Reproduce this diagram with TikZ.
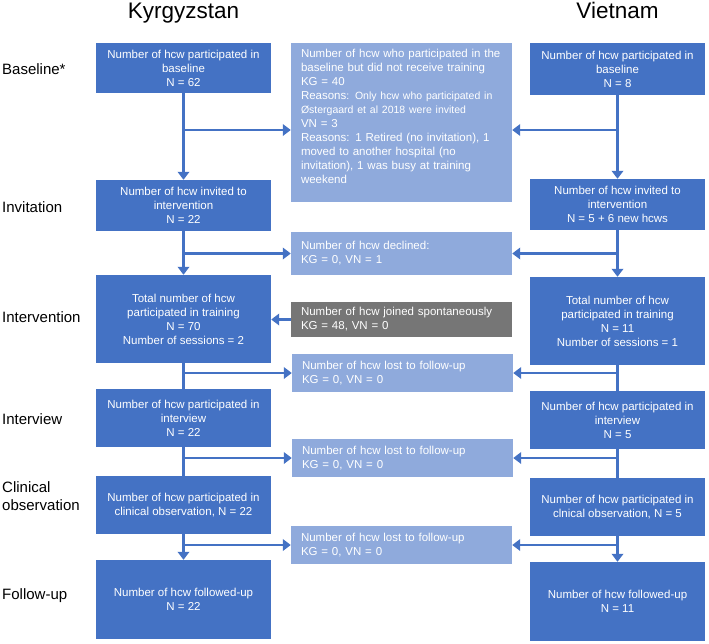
\documentclass[tikz,border=0pt]{standalone}
\usepackage{fontspec}
\setmainfont{Liberation Sans}
\usetikzlibrary{arrows.meta}

\definecolor{stageblue}{RGB}{68,114,196}
\definecolor{exitblue}{RGB}{143,170,220}
\definecolor{joingray}{RGB}{118,118,118}

\begin{document}
\begin{tikzpicture}[x=1pt,y=-1pt,>={Triangle[width=11.5pt,length=8pt]},
    flow/.style={line width=2.3pt,stageblue},
    stagebox/.style={fill=stageblue,text=white,align=center,inner sep=0pt,
      minimum width=175pt,font=\fontsize{11.5}{14}\selectfont},
    exitbox/.style={fill=exitblue,text=white,align=left,text width=201pt,
      inner xsep=10pt,inner ysep=0pt,minimum height=38pt,
      font=\fontsize{11.5}{14}\selectfont},
    rowlabel/.style={inner sep=0pt,align=left,font=\fontsize{15}{18}\selectfont},
    country/.style={anchor=base,inner sep=0pt,font=\fontsize{22.5}{27}\selectfont}]
    \useasboundingbox (0,0) rectangle (709,643);

    \node[country] (kg) at (183.5,18) {Kyrgyzstan};
    \node[country] (vn) at (617.5,18) {Vietnam};

    \node[rowlabel,anchor=base west] (lbase) at (2,74) {Baseline*};
    \node[rowlabel,anchor=base west] (linvite) at (2,212) {Invitation};
    \node[rowlabel,anchor=base west] (ltrain) at (2,322) {Intervention};
    \node[rowlabel,anchor=base west] (linterview) at (2,424) {Interview};
    \node[rowlabel,anchor=west] (lclinic) at (2,496) {Clinical\\observation};
    \node[rowlabel,anchor=base west] (lfollow) at (2,599) {Follow-up};

    \node[stagebox,minimum height=50pt] (kbase) at (183.5,68)
      {Number of hcw participated in\\baseline\\N = 62};
    \node[stagebox,minimum height=51pt] (kinvite) at (183.5,205.5)
      {Number of hcw invited to\\intervention\\N = 22};
    \node[stagebox,minimum height=88pt] (ktrain) at (183.5,319)
      {Total number of hcw\\participated in training\\N = 70\\Number of sessions = 2};
    \node[stagebox,minimum height=58pt] (kinterview) at (183.5,418)
      {Number of hcw participated in\\interview\\N = 22};
    \node[stagebox,minimum height=58pt] (kclinic) at (183.5,505)
      {Number of hcw participated in\\clinical observation, N = 22};
    \node[stagebox,minimum height=79pt] (kfollow) at (183.5,599.5)
      {Number of hcw followed-up\\N = 22};

    \node[stagebox,minimum height=52pt] (vbase) at (617.5,69)
      {Number of hcw participated in\\baseline\\N = 8};
    \node[stagebox,minimum height=51pt] (vinvite) at (617.5,204.5)
      {Number of hcw invited to\\intervention\\N = 5 + 6 new hcws};
    \node[stagebox,minimum height=88pt] (vtrain) at (617.5,321)
      {Total number of hcw\\participated in training\\N = 11\\Number of sessions = 1};
    \node[stagebox,minimum height=58pt] (vinterview) at (617.5,420)
      {Number of hcw participated in\\interview\\N = 5};
    \node[stagebox,minimum height=58pt] (vclinic) at (617.5,507)
      {Number of hcw participated in\\clnical observation, N = 5};
    \node[stagebox,minimum height=79pt] (vfollow) at (617.5,601.5)
      {Number of hcw followed-up\\N = 11};

    \node[exitbox,minimum height=159pt] (notrained) at (401.5,122.5)
      {Number of hcw who participated in the\\baseline but did not receive training\\KG = 40\\
       Reasons{\fontsize{10.5}{12.5}\selectfont: Only hcw who participated in}\\
       {\fontsize{10.5}{12.5}\selectfont Østergaard et al 2018 were invited}\\VN = 3\\
       Reasons: 1 Retired (no invitation), 1\\moved to another hospital (no\\
       invitation), 1 was busy at training\\weekend\\[-2pt]\mbox{}};
    \node[exitbox,minimum height=43pt] (declined) at (401.5,253.5)
      {Number of hcw declined:\\KG = 0, VN = 1};
    \node[exitbox,fill=joingray,minimum height=35pt] (joined) at (401.5,319.5)
      {Number of hcw joined spontaneously\\KG = 48, VN = 0};
    \node[exitbox] (lost1) at (402.5,373)
      {Number of hcw lost to follow-up\\KG = 0, VN = 0};
    \node[exitbox] (lost2) at (402.5,458)
      {Number of hcw lost to follow-up\\KG = 0, VN = 0};
    \node[exitbox] (lost3) at (401.5,545)
      {Number of hcw lost to follow-up\\KG = 0, VN = 0};

    \draw[flow,->] (kbase)--(kinvite);
    \draw[flow,->] (kinvite)--(ktrain);
    \draw[flow] (ktrain)--(kinterview);
    \draw[flow] (kinterview)--(kclinic);
    \draw[flow,->] (kclinic)--(kfollow);
    \draw[flow,->] (vbase)--(vinvite);
    \draw[flow,->] (vinvite)--(vtrain);
    \draw[flow] (vtrain)--(vinterview);
    \draw[flow] (vinterview)--(vclinic);
    \draw[flow,->] (vclinic)--(vfollow);

    \draw[flow,->] (kbase.south |- 0,130)--(notrained.west |- 0,130);
    \draw[flow,->] (vbase.south |- 0,130)--(notrained.east |- 0,130);
    \draw[flow,->] (kinvite.south |- declined.west)--(declined.west);
    \draw[flow,->] (vinvite.south |- declined.east)--(declined.east);
    \draw[flow,->] (joined.west)--(ktrain.east |- joined.west);
    \draw[flow,->] (ktrain.south |- lost1.west)--(lost1.west);
    \draw[flow,->] (vtrain.south |- lost1.east)--(lost1.east);
    \draw[flow,->] (kinterview.south |- lost2.west)--(lost2.west);
    \draw[flow,->] (vinterview.south |- lost2.east)--(lost2.east);
    \draw[flow,->] (kclinic.south |- lost3.west)--(lost3.west);
    \draw[flow,->] (vclinic.south |- lost3.east)--(lost3.east);
  \end{tikzpicture}
\end{document}
